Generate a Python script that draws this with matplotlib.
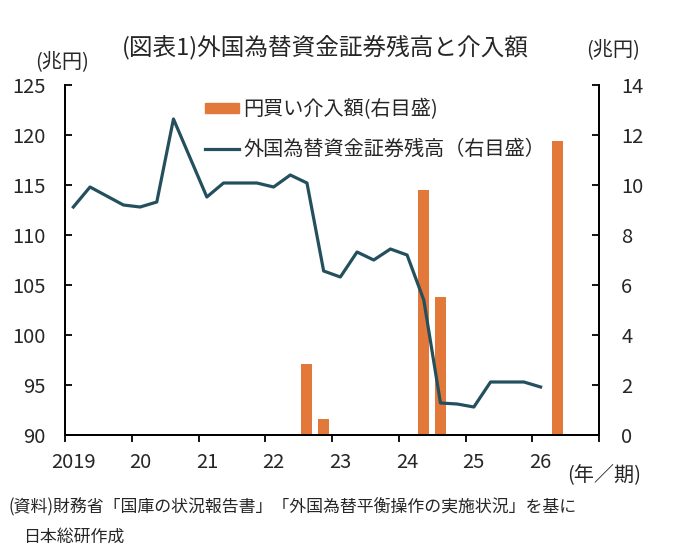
import matplotlib
matplotlib.use('Agg')
import matplotlib.pyplot as plt
from matplotlib.patches import Patch
from matplotlib.lines import Line2D
import numpy as np

plt.rcParams['font.family'] = ['Noto Sans CJK JP', 'DejaVu Sans']

# 四半期の並び(2019Q1〜2026Q4)
years = list(range(2019, 2027))
quarters = [f'{y}Q{q}' for y in years for q in range(1, 5)]
year_labels = ['2019', '20', '21', '22', '23', '24', '25', '26']

# 外国為替資金証券残高(兆円) 2019Q1〜2026Q1
balance = [112.8, 114.8, 113.9, 113.0, 112.8, 113.3, 121.6, 117.7,
           113.8, 115.2, 115.2, 115.2, 114.8, 116.0, 115.2, 106.4,
           105.8, 108.3, 107.5, 108.6, 108.0, 103.5, 93.2, 93.1,
           92.8, 95.3, 95.3, 95.3, 94.8]

# 円買い介入額(兆円)
interv_periods = ['2022Q3', '2022Q4', '2024Q2', '2024Q3', '2026Q2']
interv_amounts = [2.83, 0.63, 9.8, 5.53, 11.77]

line_color = '#24505e'
bar_color = '#e2783a'
text_color = '#262626'
fs = 14.5

fig = plt.figure(figsize=(6.8, 5.55), dpi=100)
ax = fig.add_axes([65/680, 120/555, 534/680, 350/555])
ax2 = ax.twinx()

bar_x = [quarters.index(p) for p in interv_periods]
ax2.bar(bar_x, interv_amounts, width=0.66, color=bar_color)
ax.plot(range(len(balance)), balance, color=line_color, lw=2.3)

# 折れ線を棒の上に
ax.set_zorder(ax2.get_zorder() + 1)
ax.patch.set_visible(False)

ax.set_xlim(-0.5, len(quarters) - 0.5)
ax.set_ylim(90, 125)
ax2.set_ylim(0, 14)
ax.set_yticks(np.arange(90, 126, 5))
ax2.set_yticks(np.arange(0, 15, 2))

# 年の区切りに目盛、ラベルは各年Q1に
ax.set_xticks(np.arange(-0.5, len(quarters), 4))
ax.set_xticks(np.arange(0, len(quarters), 4), minor=True)
ax.set_xticklabels(year_labels, minor=True)
ax.tick_params(axis='x', which='major', direction='out', length=5, width=1.3,
               labelbottom=False)
ax.tick_params(axis='x', which='minor', length=0, pad=12, labelsize=fs,
               labelcolor=text_color)
ax.tick_params(axis='y', direction='in', length=5, width=1.3, pad=14,
               labelsize=fs, labelcolor=text_color)
ax2.tick_params(axis='y', direction='in', length=5, width=1.3, pad=16,
                labelsize=fs, labelcolor=text_color)

for a in (ax, ax2):
    a.spines['top'].set_visible(False)
    for s in ('left', 'right', 'bottom'):
        a.spines[s].set_linewidth(1.3)

handles = [Patch(color=bar_color), Line2D([], [], color=line_color, lw=2.3)]
labels = ['円買い介入額(右目盛)', '外国為替資金証券残高（右目盛）']
ax.legend(handles, labels, loc='upper left', bbox_to_anchor=(0.262, 0.96),
          frameon=False, fontsize=fs, handlelength=1.7, handleheight=0.4,
          handletextpad=0.2, labelspacing=0.95, borderpad=0, borderaxespad=0,
          labelcolor=text_color)

fig.text(325/680, 1 - 47/555, '(図表1)外国為替資金証券残高と介入額',
         ha='center', va='center', fontsize=17, color=text_color)
fig.text(62/680, 1 - 62/555, '(兆円)', ha='center', va='center',
         fontsize=fs, color=text_color)
fig.text(613/680, 1 - 50/555, '(兆円)', ha='center', va='center',
         fontsize=fs, color=text_color)
fig.text(604/680, 1 - 475/555, '(年／期)', ha='center', va='center',
         fontsize=fs, color=text_color)
fig.text(8/680, 1 - 507/555,
         '(資料)財務省「国庫の状況報告書」「外国為替平衡操作の実施状況」を基に',
         ha='left', va='center', fontsize=12.2, color=text_color)
fig.text(23/680, 1 - 537/555, '日本総研作成', ha='left', va='center',
         fontsize=12.2, color=text_color)

fig.savefig('out.png', dpi=100)
